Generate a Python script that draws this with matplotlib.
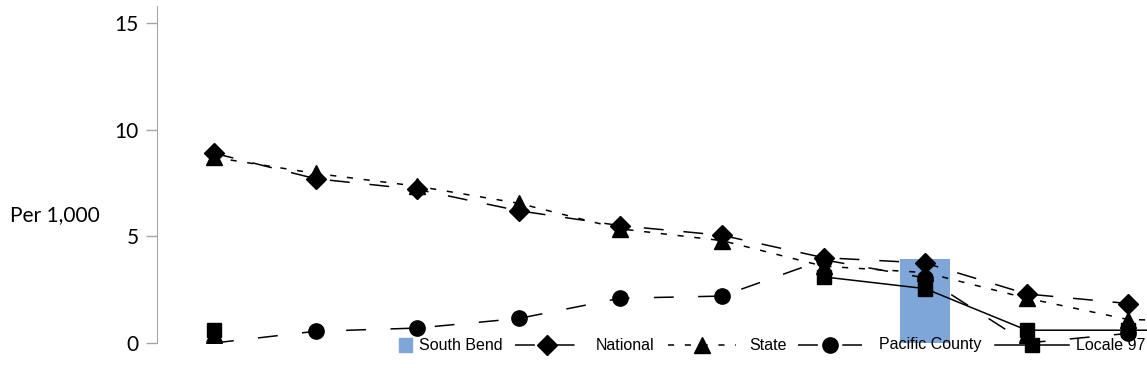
import numpy as np
import matplotlib
matplotlib.use('Agg')
import matplotlib.pyplot as plt
from matplotlib.lines import Line2D
from matplotlib.patches import Rectangle

# categories (no labels shown on the reference x axis; the last one is cut off)
categories = list(range(11))
south_bend = [np.nan] * 7 + [3.95, np.nan, np.nan, np.nan]
national = [8.9, 7.7, 7.2, 6.2, 5.5, 5.05, 4.0, 3.75, 2.3, 1.85, 1.75]
state = [8.7, 7.95, 7.35, 6.55, 5.35, 4.8, 3.6, 3.3, 2.1, 1.1, 1.0]
pacific = [0.0, 0.55, 0.7, 1.15, 2.1, 2.2, 3.9, 3.05, 0.0, 0.45, 0.35]
locale97 = [0.6, np.nan, np.nan, np.nan, np.nan, np.nan, 3.1, 2.55, 0.6, 0.6, 0.6]
yticks = [0, 5, 10, 15]

W, H = 1147, 386
fig = plt.figure(figsize=(W / 100, H / 100), dpi=100)
ax = fig.add_axes([157 / W, 43 / H, (W - 157) / W, 337 / H])

x = np.array(categories)
bar_color = '#7ea6d8'
ax.bar(x, south_bend, width=0.49, color=bar_color, zorder=1)

lw = 1.1
styles = {
    'National': dict(marker='D', ms=10, dashes=(13, 13)),
    'State': dict(marker='^', ms=11, dashes=(4, 7)),
    'Pacific County': dict(marker='o', ms=11, dashes=(13, 16)),
    'Locale 97': dict(marker='s', ms=10, linestyle='-'),
}
series = {'National': national, 'State': state,
          'Pacific County': pacific, 'Locale 97': locale97}
for name, vals in series.items():
    ax.plot(x, vals, color='black', lw=lw, markerfacecolor='black',
            markeredgecolor='black', zorder=3, **styles[name])

ax.set_xlim(-(214 - 157) / 101.6, (W - 214) / 101.6)
ax.set_ylim(0, 337 / 21.33)
ax.set_yticks(yticks)
ax.set_xticks([])
for s in ['top', 'right', 'bottom']:
    ax.spines[s].set_visible(False)
ax.spines['left'].set_color('#a6a6a6')
ax.tick_params(axis='y', colors='#a6a6a6', labelcolor='black', length=8,
               width=1, labelsize=15, pad=5)
for lab in ax.get_yticklabels():
    lab.set_family('Lato')

fig.text(10 / W, (H - 215) / H, 'Per 1,000', fontsize=15, family='Lato',
         ha='left', va='center')

# legend laid out by hand, in pixels
leg_y = (H - 345) / H
leg_font = dict(family=['Liberation Sans Narrow', 'Liberation Sans'], size=11.5)
fig.add_artist(Rectangle((399 / W, (H - 352) / H), 13 / W, 14 / H,
                         color=bar_color, transform=fig.transFigure))
fig.text(419 / W, leg_y, 'South Bend', va='center', ha='left', **leg_font)
legend_pos = {'National': (515, 579, 596), 'State': (668, 736, 749),
              'Pacific County': (798, 862, 879), 'Locale 97': (995, 1069, 1076)}
for name in series:
    x0, x1, tx = legend_pos[name]
    st = dict(styles[name])
    marker, ms = st.pop('marker'), st.pop('ms')
    fig.add_artist(Line2D([x0 / W, x1 / W], [leg_y, leg_y], color='black',
                          lw=lw, transform=fig.transFigure, **st))
    fig.add_artist(Line2D([(x0 + x1) / 2 / W], [leg_y], marker=marker, ms=ms,
                          color='black', linestyle='none',
                          transform=fig.transFigure))
    fig.text(tx / W, leg_y, name, va='center', ha='left', **leg_font)

fig.savefig('out.png', dpi=100)
